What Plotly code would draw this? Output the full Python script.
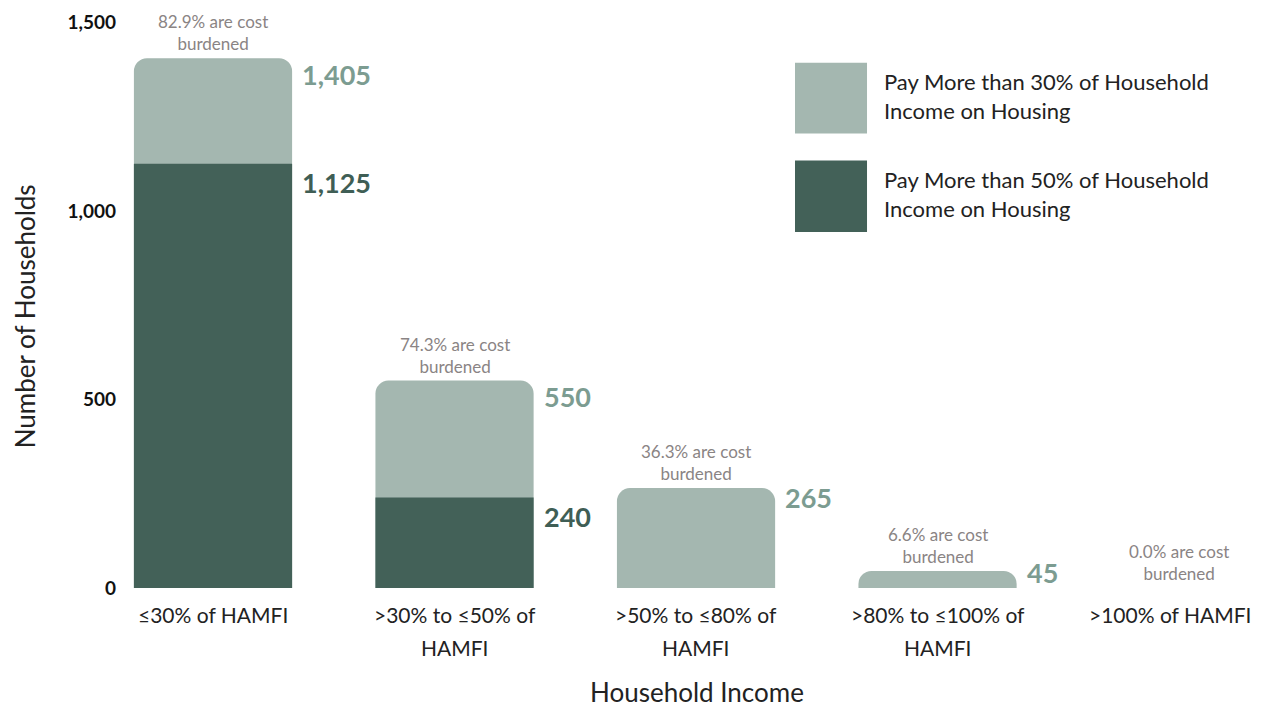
import plotly.graph_objects as go

categories = ["≤30% of HAMFI", ">30% to ≤50% of<br>HAMFI", ">50% to ≤80% of<br>HAMFI",
              ">80% to ≤100% of<br>HAMFI", ">100% of HAMFI"]
pay30 = [1405, 550, 265, 45, 0]
pay50 = [1125, 240, 0, 0, 0]
pct_burdened = [82.9, 74.3, 36.3, 6.6, 0.0]
y_ticks = [0, 500, 1000, 1500]
legend_names = ["Pay More than 30% of Household<br>Income on Housing",
                "Pay More than 50% of Household<br>Income on Housing"]

LIGHT = "#a4b7b0"
DARK = "#436158"
LIGHT_TXT = "#7c9c91"
DARK_TXT = "#3f5e55"
GRAY = "#8a8484"
FONT = "Lato"
BW = 0.655

xs = list(range(len(categories)))

fig = go.Figure()
fig.add_trace(go.Bar(x=xs, y=pay30, width=BW, marker=dict(color=LIGHT, cornerradius=13, line_width=0),
                     name="30", showlegend=False))
fig.add_trace(go.Bar(x=xs, y=pay50, width=BW, marker=dict(color=DARK, cornerradius=0, line_width=0),
                     name="50", showlegend=False))

ann = []
n = len(categories)
for i, (a, b, p) in enumerate(zip(pay30, pay50, pct_burdened)):
    # percent annotation
    ann.append(dict(x=i, y=a, xref="x", yref="y", text=f"{p:.1f}% are cost<br>burdened",
                    showarrow=False, yanchor="bottom", yshift=2,
                    font=dict(family=FONT, size=17, color=GRAY)))
    if a > 0:
        ann.append(dict(x=i + BW / 2, y=a, xref="x", yref="y", text=f"{a:,}", showarrow=False,
                        xanchor="left", yanchor="middle", xshift=8, yshift=-min(16, a * 0.0355),
                        font=dict(family=FONT, size=27, color=LIGHT_TXT, weight="bold")))
    if b > 0:
        ann.append(dict(x=i + BW / 2, y=b, xref="x", yref="y", text=f"{b:,}", showarrow=False,
                        xanchor="left", yanchor="middle", xshift=8, yshift=-19,
                        font=dict(family=FONT, size=27, color=DARK_TXT, weight="bold")))
    # category labels (one annotation per line for wide line spacing)
    for j, line in enumerate(categories[i].split("<br>")):
        ann.append(dict(x=i, y=0, xref="x", yref="y", text=line, showarrow=False,
                        yanchor="middle", yshift=-26 - 33 * j, xshift=(-9 if i == n - 1 else 0),
                        font=dict(family=FONT, size=21, color="#222222")))

# axis titles
ann.append(dict(x=0.5075, y=-0.183, xref="paper", yref="paper", text="Household Income",
                showarrow=False, xanchor="center", yanchor="middle",
                font=dict(family=FONT, size=26, color="#222222")))
ann.append(dict(x=-0.0887, y=0.48, xref="paper", yref="paper", text="Number of Households",
                textangle=-90, showarrow=False, xanchor="center", yanchor="middle",
                font=dict(family=FONT, size=26, color="#222222")))

# custom legend
shapes = []
leg_boxes = [(0.928, 0.803), (0.7555, 0.629)]
for (y1, y0), col, name in zip(leg_boxes, [LIGHT, DARK], legend_names):
    shapes.append(dict(type="rect", xref="paper", yref="paper", x0=0.5945, x1=0.6584,
                       y0=y0, y1=y1, fillcolor=col, line_width=0, layer="above"))
    ann.append(dict(x=0.6717, y=(y0 + y1) / 2, xref="paper", yref="paper", text=name,
                    showarrow=False, xanchor="left", yanchor="middle", align="left", yshift=2,
                    font=dict(family=FONT, size=22, color="#222222")))

fig.update_layout(
    width=1246, height=701,
    margin=dict(l=117, r=2, t=12, b=121),
    plot_bgcolor="white", paper_bgcolor="white",
    barmode="overlay",
    annotations=ann, shapes=shapes,
    xaxis=dict(range=[-0.3644, 4.302], showticklabels=False, showgrid=False, zeroline=False,
               showline=False, ticks=""),
    yaxis=dict(range=[0, 1501], tickvals=y_ticks, tickformat=",", showgrid=False, zeroline=False,
               showline=False, ticks="", ticklabelstandoff=8, ticklabeloverflow="allow",
               tickfont=dict(family=FONT, size=19, color="#111111", weight="bold")),
)

fig.write_html("out.html")
